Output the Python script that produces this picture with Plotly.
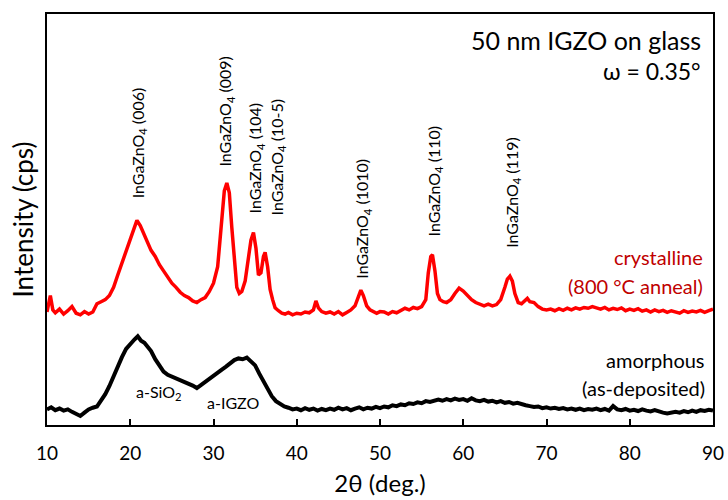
import plotly.graph_objects as go

# ---- data ----
red_x = [10.0, 10.4, 10.7, 11.0, 11.5, 12.0, 12.5, 13.0, 13.5, 14.0, 14.5, 15.0, 15.5,
         16.0, 16.5, 17.0, 17.5, 18.0, 18.5, 19.0, 19.5, 20.0, 20.5, 20.8, 21.2, 21.5,
         22.0, 22.5, 23.0, 23.5, 24.0, 24.5, 25.0, 25.5, 26.0, 26.5, 27.0, 27.5, 28.0,
         28.5, 29.0, 29.5, 30.0, 30.5, 31.0, 31.3, 31.6, 31.9, 32.2, 32.5, 32.8, 33.1,
         33.4, 33.8, 34.2, 34.5, 34.8, 35.1, 35.4, 35.7, 36.0, 36.2, 36.5, 36.8, 37.1,
         37.4, 37.8, 38.2, 38.6, 39.0, 39.5, 40.0, 40.5, 41.0, 41.5, 42.0, 42.3, 42.6,
         43.0, 43.5, 44.0, 44.5, 45.0, 45.5, 46.0, 46.5, 47.0, 47.4, 47.7, 48.0, 48.4,
         48.8, 49.2, 49.6, 50.0, 50.5, 51.0, 51.5, 52.0, 52.5, 53.0, 53.5, 54.0, 54.5,
         55.0, 55.5, 55.8, 56.1, 56.3, 56.6, 56.9, 57.2, 57.6, 58.0, 58.5, 59.0, 59.5,
         60.0, 60.5, 61.0, 61.5, 62.0, 62.5, 63.0, 63.5, 64.0, 64.5, 65.0, 65.3, 65.6,
         65.9, 66.2, 66.6, 67.0, 67.4, 67.7, 68.0, 68.5, 69.0, 69.5, 70.0, 70.5, 71.0,
         71.5, 72.0, 72.5, 73.0, 73.5, 74.0, 74.5, 75.0, 75.5, 76.0, 76.5, 77.0, 77.5,
         78.0, 78.5, 79.0, 79.5, 80.0, 80.5, 81.0, 81.5, 82.0, 82.5, 83.0, 83.5, 84.0,
         84.5, 85.0, 85.5, 86.0, 86.5, 87.0, 87.5, 88.0, 88.5, 89.0, 89.5, 90.0]
red_y = [27.5, 31.5, 28.0, 27.3, 28.2, 27.0, 27.8, 28.8, 27.2, 26.8, 27.6, 27.0, 27.5,
         29.5, 30.0, 30.5, 31.5, 33.5, 36.5, 39.5, 42.5, 45.0, 48.0, 49.8, 48.5, 47.0,
         45.0, 42.5, 41.0, 39.0, 37.5, 36.0, 34.5, 33.5, 32.3, 31.5, 31.0, 30.2, 29.8,
         30.5, 31.0, 32.5, 34.5, 38.5, 51.0, 57.0, 58.9, 56.5, 48.0, 40.0, 33.5, 32.0,
         32.5, 35.0, 40.0, 45.0, 46.8, 43.0, 36.5, 37.0, 41.0, 42.0, 38.5, 33.0, 30.5,
         28.5, 27.8, 27.2, 27.0, 27.4, 26.8, 27.2, 27.0, 27.5, 27.3, 28.0, 30.2, 28.5,
         27.6, 27.2, 27.5, 27.0, 27.6, 26.8, 27.4, 28.0, 29.0, 31.5, 32.8, 31.5, 29.0,
         28.0, 27.5, 27.2, 27.6, 27.5, 27.0, 27.6, 27.3, 27.8, 28.4, 28.0, 28.6, 28.3,
         28.8, 30.5, 37.0, 41.0, 41.4, 37.5, 32.0, 30.5, 30.0, 29.8, 30.5, 32.0, 33.3,
         32.6, 31.5, 30.5, 29.8, 29.5, 29.0, 29.4, 29.0, 29.3, 30.5, 33.5, 35.5, 36.2,
         35.0, 32.0, 29.8, 29.5, 30.2, 30.8, 30.0, 29.8, 28.8, 28.2, 28.0, 28.2, 27.8,
         28.3, 27.9, 28.4, 28.0, 28.5, 28.2, 28.6, 28.4, 28.8, 28.5, 28.2, 28.6, 28.0,
         28.4, 28.1, 28.5, 27.8, 28.2, 27.9, 28.3, 27.7, 28.0, 27.5, 28.0, 27.6, 27.9,
         27.4, 27.8, 27.5, 27.2, 27.8, 27.4, 27.7, 27.5, 27.9, 27.4, 27.8, 28.2]

black_x = [10.0, 10.5, 11.0, 11.5, 12.0, 12.5, 13.0, 13.5, 14.0, 14.5, 15.0, 15.5, 16.0,
           16.5, 17.0, 17.5, 18.0, 18.5, 19.0, 19.5, 20.0, 20.5, 20.9, 21.3, 21.7, 22.0,
           22.5, 23.0, 23.5, 24.0, 24.5, 25.0, 25.5, 26.0, 26.5, 27.0, 27.5, 28.0, 28.5,
           29.0, 29.5, 30.0, 30.5, 31.0, 31.5, 32.0, 32.5, 33.0, 33.5, 34.0, 34.5, 35.0,
           35.5, 36.0, 36.5, 37.0, 37.5, 38.0, 38.5, 39.0, 39.5, 40.0, 40.5, 41.0, 41.5,
           42.0, 42.5, 43.0, 43.5, 44.0, 44.5, 45.0, 45.5, 46.0, 46.5, 47.0, 47.5, 48.0,
           48.5, 49.0, 49.5, 50.0, 50.5, 51.0, 51.5, 52.0, 52.5, 53.0, 53.5, 54.0, 54.5,
           55.0, 55.5, 56.0, 56.5, 57.0, 57.5, 58.0, 58.5, 59.0, 59.5, 60.0, 60.5, 61.0,
           61.5, 62.0, 62.5, 63.0, 63.5, 64.0, 64.5, 65.0, 65.5, 66.0, 66.5, 67.0, 67.5,
           68.0, 68.5, 69.0, 69.5, 70.0, 70.5, 71.0, 71.5, 72.0, 72.5, 73.0, 73.5, 74.0,
           74.5, 75.0, 75.5, 76.0, 76.5, 77.0, 77.5, 78.0, 78.5, 79.0, 79.5, 80.0, 80.5,
           81.0, 81.5, 82.0, 82.5, 83.0, 83.5, 84.0, 84.5, 85.0, 85.5, 86.0, 86.5, 87.0,
           87.5, 88.0, 88.5, 89.0, 89.5, 90.0]
black_y = [3.8, 4.3, 3.6, 4.0, 3.5, 3.8, 3.2, 2.8, 2.2, 3.0, 3.8, 4.2, 4.5,
           6.0, 7.5, 9.5, 12.0, 14.5, 16.5, 18.5, 19.8, 20.8, 21.6, 20.5, 20.0, 19.2,
           18.0, 16.0, 14.5, 13.0, 12.2, 11.8, 11.2, 11.0, 10.4, 10.0, 9.6, 9.0, 9.8,
           10.5, 11.2, 12.0, 12.8, 13.5, 14.2, 15.0, 15.8, 16.2, 16.0, 16.4, 15.5, 14.5,
           12.5, 10.5, 8.5, 7.0, 5.8, 5.0, 4.5, 4.2, 3.8, 4.0, 3.6, 4.1, 3.7,
           4.0, 3.5, 3.9, 3.6, 4.0, 3.7, 4.2, 3.8, 4.1, 3.6, 4.0, 4.3, 3.8,
           4.2, 4.0, 4.4, 4.1, 4.5, 4.3, 4.8, 4.6, 5.0, 4.8, 5.3, 5.1, 5.5,
           5.3, 5.8, 5.6, 6.0, 6.2, 5.9, 6.3, 6.0, 6.4, 6.1, 6.3, 5.9, 6.5,
           6.0, 5.8, 6.1, 5.7, 5.9, 5.5, 5.8, 5.4, 5.6, 5.2, 5.4, 5.0, 4.8,
           4.6, 4.4, 4.5, 4.1, 4.3, 4.0, 4.2, 3.9, 4.1, 3.8, 4.0, 3.7, 4.0,
           3.6, 3.9, 3.7, 4.0, 3.6, 3.9, 3.5, 4.6, 3.8, 3.6, 3.9, 3.5, 3.7,
           3.4, 3.8, 3.5, 3.3, 3.6, 3.2, 3.0, 2.8, 2.9, 3.2, 3.0, 3.4, 3.1,
           3.5, 3.2, 3.6, 3.4, 3.7, 3.5]

x_ticks = [10, 20, 30, 40, 50, 60, 70, 80, 90]

peak_labels = ["InGaZnO<sub>4</sub> (006)", "InGaZnO<sub>4</sub> (009)",
               "InGaZnO<sub>4</sub> (104)", "InGaZnO<sub>4</sub> (10-5)",
               "InGaZnO<sub>4</sub> (1010)", "InGaZnO<sub>4</sub> (110)",
               "InGaZnO<sub>4</sub> (119)"]
peak_pos = [21.0, 31.5, 35.1, 37.7, 47.9, 56.5, 65.9]
label_base = [54.7, 62.5, 51.1, 50.4, 35.0, 45.3, 42.6]

FONT = "Lato"

fig = go.Figure()
fig.add_trace(go.Scatter(x=black_x, y=black_y, mode="lines",
                         line=dict(color="black", width=4), showlegend=False))
fig.add_trace(go.Scatter(x=red_x, y=red_y, mode="lines",
                         line=dict(color="#ff0000", width=3.5), showlegend=False))

ann = []
for lab, px, py in zip(peak_labels, peak_pos, label_base):
    ann.append(dict(x=px, y=py, xref="x", yref="y", text=lab, textangle=-90,
                    showarrow=False, xanchor="center", yanchor="bottom",
                    font=dict(family=FONT, size=16, color="black")))

ann += [
    dict(x=0.985, y=0.937, xref="paper", yref="paper", text="50 nm IGZO on glass",
         showarrow=False, xanchor="right", yanchor="middle",
         font=dict(family=FONT, size=25, color="black")),
    dict(x=0.985, y=0.862, xref="paper", yref="paper", text="ω = 0.35°",
         showarrow=False, xanchor="right", yanchor="middle",
         font=dict(family=FONT, size=23, color="black")),
    dict(x=0.988, y=0.408, xref="paper", yref="paper", text="crystalline",
         showarrow=False, xanchor="right", yanchor="middle",
         font=dict(family=FONT, size=20, color="#c00000")),
    dict(x=0.988, y=0.338, xref="paper", yref="paper", text="(800 °C anneal)",
         showarrow=False, xanchor="right", yanchor="middle",
         font=dict(family=FONT, size=20, color="#c00000")),
    dict(x=0.991, y=0.158, xref="paper", yref="paper", text="amorphous",
         showarrow=False, xanchor="right", yanchor="middle",
         font=dict(family=FONT, size=20, color="black")),
    dict(x=0.991, y=0.090, xref="paper", yref="paper", text="(as-deposited)",
         showarrow=False, xanchor="right", yanchor="middle",
         font=dict(family=FONT, size=20, color="black")),
    dict(x=23.5, y=8.0, xref="x", yref="y", text="a-SiO<sub>2</sub>",
         showarrow=False, xanchor="center", yanchor="middle",
         font=dict(family=FONT, size=16, color="black")),
    dict(x=32.4, y=5.4, xref="x", yref="y", text="a-IGZO",
         showarrow=False, xanchor="center", yanchor="middle",
         font=dict(family=FONT, size=16, color="black")),
]

fig.update_layout(
    width=728, height=500,
    margin=dict(l=47, r=15, t=14, b=75),
    paper_bgcolor="white", plot_bgcolor="white",
    font=dict(family=FONT, color="black"),
    annotations=ann,
    xaxis=dict(range=[10, 90], tickvals=x_ticks, ticks="inside", ticklen=6,
               tickwidth=1.5, tickcolor="black", showline=True, linewidth=2,
               linecolor="black", mirror=True, showgrid=False, zeroline=False,
               ticklabelstandoff=10, automargin=False, ticklabeloverflow="allow",
               tickfont=dict(family=FONT, size=19, color="black"),
               title=dict(text="2θ (deg.)", font=dict(family=FONT, size=24),
                          standoff=12)),
    yaxis=dict(range=[0, 100], showticklabels=False, ticks="", showline=True,
               linewidth=2, linecolor="black", mirror=True, showgrid=False,
               zeroline=False, automargin=False,
               title=dict(text="Intensity (cps)", font=dict(family=FONT, size=26),
                          standoff=4)),
)

fig.write_html("out.html")
